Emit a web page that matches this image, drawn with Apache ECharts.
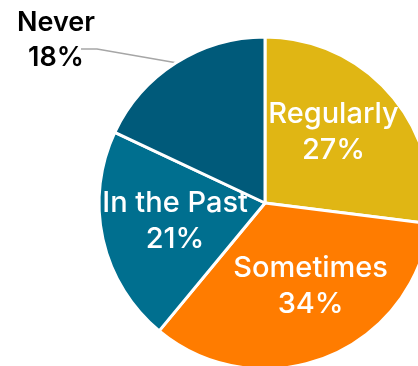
<!DOCTYPE html>
<html><head><meta charset="utf-8">
<script src="https://cdn.jsdelivr.net/npm/echarts@6/dist/echarts.min.js"></script>
<style>html,body{margin:0;padding:0;background:#fff}#c{width:418px;height:366px}</style>
</head><body><div id="c"></div>
<script>
const categories = ['Regularly', 'Sometimes', 'In the Past', 'Never'];
const values = [27, 34, 21, 18];
const colors = ['#E0B614', '#FF7C00', '#006F8F', '#005A7A'];
const labelOffsets = [[4, -14], [14, 3], [-6, 0], [0, 0]];

const chart = echarts.init(document.getElementById('c'), null, {renderer: 'canvas'});
const baseLabel = {formatter: '{b}\n{c}%', fontSize: 29, lineHeight: 36, fontFamily: 'Inter', fontWeight: 500};
const data = categories.map((name, i) => {
  const item = {name, value: values[i], itemStyle: {color: colors[i]}};
  if (i === 3) {
    item.label = Object.assign({}, baseLabel, {show: true, position: 'outside', color: '#000', fontWeight: 600, fontSize: 27, lineHeight: 35, align: 'center'});
    item.labelLine = {show: true, length: 30, length2: 16, lineStyle: {color: '#A6A6A6', width: 1.5}};
  } else {
    item.label = Object.assign({}, baseLabel, {show: true, position: 'inside', color: '#fff', offset: labelOffsets[i]});
  }
  return item;
});
chart.setOption({
  animation: false,
  series: [{
    type: 'pie',
    center: [265, 203],
    radius: 166,
    startAngle: 90,
    clockwise: true,
    data,
    itemStyle: {borderColor: '#fff', borderWidth: 3},
    label: Object.assign({show: true, color: '#fff'}, baseLabel),
    labelLine: {show: false},
    labelLayout: function (p) {
      if (p.dataIndex !== 3 || !p.labelLinePoints) return {};
      const w = p.labelRect.width, h = p.labelRect.height;
      const cx = 56, cy = 40;
      const right = cx + w / 2, top = cy - h / 2;
      const yl = top + h * 0.63;
      return {
        x: cx, y: cy, align: 'center', verticalAlign: 'middle',
        labelLinePoints: [p.labelLinePoints[0], [right + 2, yl], [right - 14, yl]]
      };
    }
  }]
});
</script></body></html>
